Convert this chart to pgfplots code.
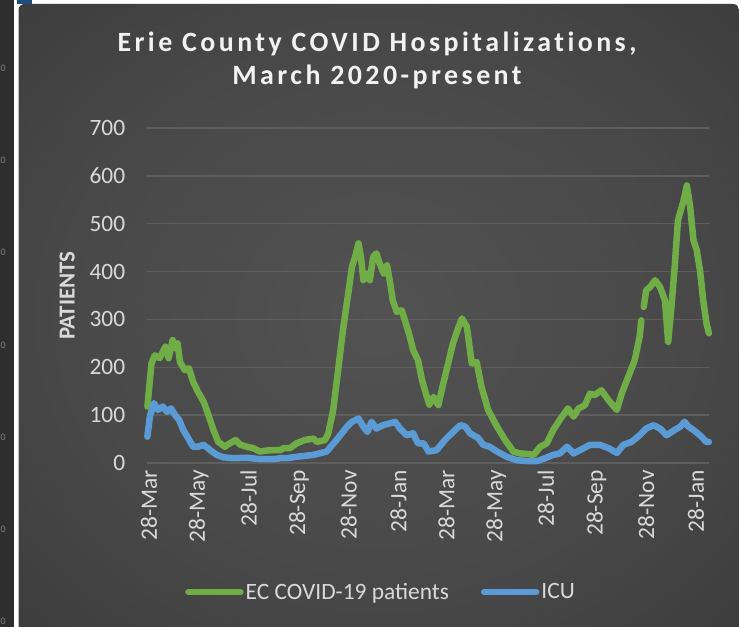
\documentclass[border=0pt]{standalone}
\usepackage{fontspec}
\setmainfont{Carlito}
\usepackage{pgfplots}
\pgfplotsset{compat=1.18}
\usepackage{pgfplotstable}

\definecolor{gline}{HTML}{70AD47}
\definecolor{bline}{HTML}{5B9BD5}
\definecolor{gridc}{HTML}{5E5E5E}
\definecolor{tickc}{HTML}{D9D9D9}
\definecolor{titlec}{HTML}{F2F2F2}
\definecolor{pc1}{HTML}{525252}
\definecolor{pc2}{HTML}{484848}
\definecolor{pc3}{HTML}{333333}
\definecolor{pc4}{HTML}{262626}
\definecolor{leftpanel}{HTML}{2E2E2E}
\definecolor{topblue}{HTML}{1F4E79}

\pgfdeclareradialshading{panelshade}{\pgfpoint{0bp}{0bp}}{color(0bp)=(pc1); color(22bp)=(pc2); color(48bp)=(pc3); color(71bp)=(pc4); color(80bp)=(pc4)}

\pgfplotstableread{
day val
-2 118
3 208
7 225
13 219
20 243
24 219
29 257
32 240
35 250
38 211
44 194
49 198
54 170
60 149
67 128
73 100
79 69
85 44
93 34
99 41
106 48
112 38
120 34
128 31
136 24
144 26
153 27
161 27
165 31
173 31
181 41
191 48
202 51
206 44
216 48
220 62
226 111
232 194
238 278
245 361
249 410
253 431
257 459
260 431
263 382
267 396
271 382
275 431
279 438
283 417
288 396
292 413
296 375
299 340
304 316
310 319
314 298
320 264
324 236
330 215
335 173
341 138
344 122
349 138
355 121
361 166
367 208
373 250
380 285
384 302
390 285
396 208
402 211
408 159
416 111
427 76
437 48
447 24
455 20
463 19
472 17
480 34
488 41
496 69
504 90
514 114
521 97
527 114
535 121
541 145
547 142
555 152
564 131
574 111
580 145
588 180
596 215
602 264
604 298
605 nan
607 326
610 361
615 368
621 382
627 368
633 340
637 253
641 326
645 410
649 507
656 549
660 580
664 535
668 466
672 445
676 403
680 340
684 292
687 271
}\ecpatients

\pgfplotstableread{
day val
-2 55
1 97
6 125
11 111
17 118
22 107
27 114
32 100
37 90
42 69
48 52
54 34
60 34
67 38
75 27
83 17
91 12
103 10
120 11
136 8
153 8
161 10
169 10
181 13
202 17
218 24
230 48
243 76
249 86
257 93
263 76
268 65
273 86
279 72
287 79
296 83
302 86
308 72
316 58
324 62
330 41
337 41
343 24
353 27
363 48
373 65
382 79
388 76
394 62
404 52
410 38
418 34
427 24
439 13
451 6
463 4
476 4
486 10
496 17
504 20
513 34
521 20
529 27
541 38
553 38
564 31
574 21
582 38
592 44
602 58
610 72
619 79
627 72
635 58
645 69
652 76
657 86
662 76
668 69
676 58
684 44
687 44
}\icu

\begin{document}
\begin{tikzpicture}
% page background
\fill[white] (0bp,0bp) rectangle (739bp,627bp);
% neighbouring panel on the left
\fill[leftpanel] (0bp,0bp) rectangle (13.5bp,627bp);
\foreach \yy in {68,160,252,345,437,529,621}
  \node[text=gray, font=\fontsize{10}{12}\selectfont, inner sep=0pt, anchor=west] at (0.5bp,{(627-\yy)*1bp}) {0};
\fill[topblue] (17bp,623bp) rectangle (32bp,627bp);
% main panel
\shade[shading=panelshade, rounded corners=6bp] (18.5bp,0bp) -- (18.5bp,623bp) -- (739bp,623bp) [sharp corners] -- (739bp,0bp) -- cycle;

% title
\node[anchor=base, text=titlec, inner sep=0pt, font=\fontsize{28}{34}\bfseries\addfontfeatures{LetterSpace=12.4,RawFeature=-liga}] at (377bp,575.5bp) {Erie County COVID Hospitalizations,};
\node[anchor=base, text=titlec, inner sep=0pt, font=\fontsize{28}{34}\bfseries\addfontfeatures{LetterSpace=12.4,RawFeature=-liga}] at (377bp,542bp) {March 2020-present};

\begin{axis}[
  at={(147.4bp,164bp)}, anchor=south west,
  scale only axis, width=561.6bp, height=335bp,
  xmin=-2, xmax=687.1, ymin=0, ymax=700,
  ytick={0,100,200,300,400,500,600,700},
  xtick={0,61,122,184,245,306,365,426,487,549,610,671},
  xticklabels={28-Mar,28-May,28-Jul,28-Sep,28-Nov,28-Jan,28-Mar,28-May,28-Jul,28-Sep,28-Nov,28-Jan},
  axis line style={draw=none},
  major tick length=0pt,
  ymajorgrids, grid style={color=gridc, line width=1.5bp},
  tick label style={font=\fontsize{23.5}{28}\selectfont, text=tickc, inner sep=0pt},
  xticklabel style={rotate=90, anchor=east},
  yticklabel style={anchor=east},
  xticklabel shift=7bp, yticklabel shift=22bp,
  /pgf/number format/assume math mode=true,
  ylabel={PATIENTS},
  ylabel style={at={(axis description cs:-0.143,0.5)}, anchor=center, font=\bfseries\fontsize{23}{28}\selectfont, text=tickc},
  clip=false,
  unbounded coords=jump,
  legend columns=2,
  legend style={at={(axis description cs:0.416,-0.385)}, anchor=center, draw=none, fill=none, text=tickc, font=\fontsize{23.5}{28}\selectfont, inner sep=0pt, nodes={inner sep=2bp}, /tikz/every even column/.append style={column sep=30bp}},
  legend image code/.code={\draw[#1, line cap=round] (0bp,0bp) -- (52bp,0bp);},
]
\addplot[gline, line width=6.5bp, line join=round, line cap=round] table[x=day, y=val] {\ecpatients};
\addlegendentry{EC COVID-19 patients}
\addplot[bline, line width=6.5bp, line join=round, line cap=round] table[x=day, y=val] {\icu};
\addlegendentry{ICU}
\end{axis}
\pgfresetboundingbox
\path[use as bounding box] (0bp,0bp) rectangle (739bp,627bp);
\end{tikzpicture}
\end{document}
